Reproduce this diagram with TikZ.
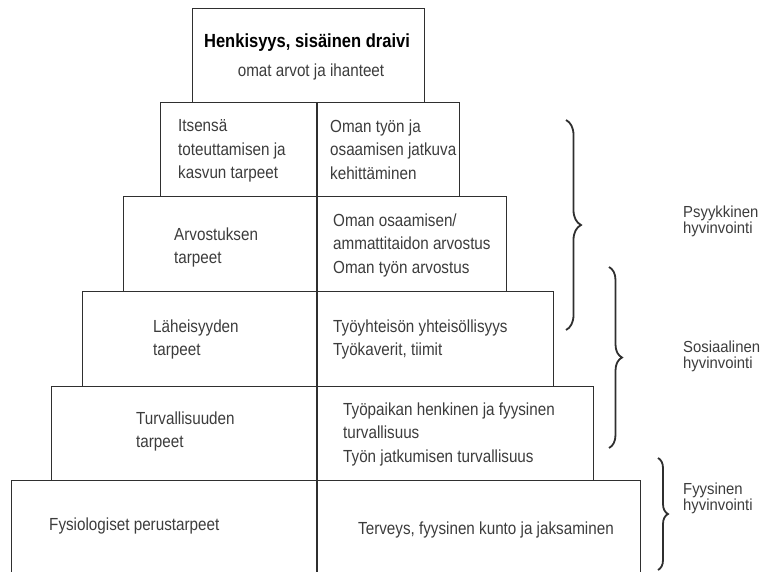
\documentclass[tikz,border=0pt]{standalone}
\usepackage{fontspec}
\setmainfont{Liberation Sans}[FakeStretch=0.87]
\newfontfamily\sidefont{Liberation Sans}[FakeStretch=0.93]
\usetikzlibrary{decorations.pathreplacing}
\definecolor{ink}{HTML}{2F2F2F}
\definecolor{gtext}{HTML}{3C3C3C}

\begin{document}
\begin{tikzpicture}[x=1pt,y=-1pt,
    box/.style={draw=ink, line width=1.3pt, inner sep=0pt, anchor=north west},
    txt/.style={anchor=north west, inner sep=0pt, align=left, text=gtext,
        font=\fontsize{17.5}{23.5}\selectfont},
    side/.style={anchor=north west, inner sep=0pt, align=left, text=gtext,
        font=\sidefont\fontsize{16}{16}\selectfont},
    curly/.style={draw=ink, line width=1.8pt, decorate,
        decoration={brace, amplitude=#1}}]
\useasboundingbox (0,0) rectangle (761,571);

\foreach \n/\l/\t/\r/\b in {top/192/8/424/102, lv1/160/102/459/196,
    lv2/123/196/506/291, lv3/82/291/553/386, lv4/51/386/593/480,
    lv5/11/480/640/580}
  \node[box, minimum width={\r-\l}, minimum height={\b-\t}] (\n) at (\l,\t) {};

\coordinate (mid) at (317,0);
\draw[draw=ink, line width=1.3pt] (mid |- lv1.north) -- (mid |- lv5.south);

\node[anchor=base, inner sep=0pt, text=black,
    font=\bfseries\fontsize{19}{19}\selectfont] (head) at (307,47) {Henkisyys, sisäinen draivi};
\node[txt, anchor=base] (headsub) at (311,76) {omat arvot ja ihanteet};

\node[txt] (need1) at (178,119.3) {Itsensä\\toteuttamisen ja\\kasvun tarpeet};
\node[txt] (work1) at (330,119.3) {Oman työn ja\\osaamisen jatkuva\\kehittäminen};
\node[txt] (need2) at (174,227.3) {Arvostuksen\\tarpeet};
\node[txt] (work2) at (333,213.3) {Oman osaamisen/\\ammattitaidon arvostus\\Oman työn arvostus};
\node[txt] (need3) at (153,319.3) {Läheisyyden\\tarpeet};
\node[txt] (work3) at (333,319.3) {Työyhteisön yhteisöllisyys\\Työkaverit, tiimit};
\node[txt] (need4) at (136,411.3) {Turvallisuuden\\tarpeet};
\node[txt] (work4) at (343,402.3) {Työpaikan henkinen ja fyysinen\\turvallisuus\\Työn jatkumisen turvallisuus};
\node[txt, anchor=base west] (need5) at (49,530) {Fysiologiset perustarpeet};
\node[txt, anchor=base west] (work5) at (358,534) {Terveys, fyysinen kunto ja jaksaminen};

\coordinate (psyA) at (566,120);
\coordinate (psyB) at (566,330);
\coordinate (sosA) at (609,267);
\coordinate (sosB) at (609,448);
\coordinate (fyyA) at (658,458);
\coordinate (fyyB) at (658,570);
\draw[curly=15pt] (psyA) -- (psyB);
\draw[curly=13pt] (sosA) -- (sosB);
\draw[curly=10pt] (fyyA) -- (fyyB);

\node[side] (psy) at (683,205.5) {Psyykkinen\\hyvinvointi};
\node[side] (sos) at (683,340.5) {Sosiaalinen\\hyvinvointi};
\node[side] (fyy) at (683,482.5) {Fyysinen\\hyvinvointi};
\end{tikzpicture}
\end{document}
